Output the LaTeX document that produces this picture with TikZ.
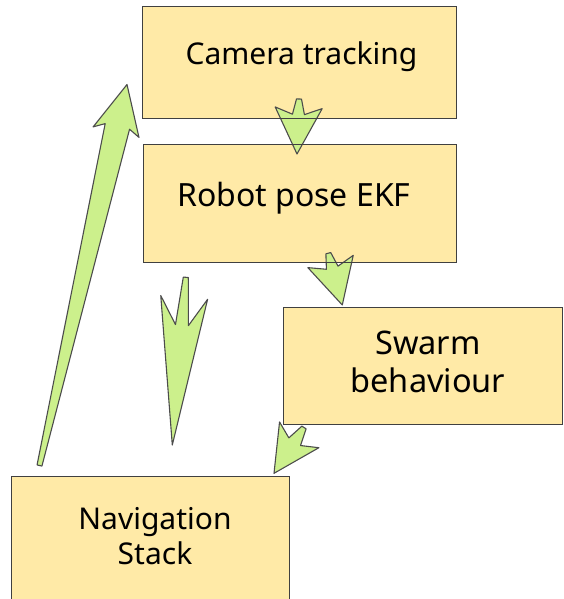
\documentclass[tikz,border=0pt]{standalone}
\usepackage{fontspec}
\setmainfont{Noto Sans}
\usetikzlibrary{calc}
\definecolor{boxyellow}{RGB}{255,234,167}
\definecolor{arrgreen}{RGB}{204,240,140}
\tikzset{
  fx/.style={x=1pt, y=-1pt},
  f box/.style={fill=boxyellow, inner sep=0pt},
  f edge/.style={draw=black!75, line width=1.2pt},
  f text/.style={align=center, inner sep=0pt},
  f fat/.style={draw=black!70, line width=1.1pt, fill=arrgreen, line join=round},
}
% tapered block arrow: tail, tip, barb pos, notch pos, notch half width
\newcommand{\fatarrow}[5]{%
  \begin{scope}[x={($(#2)-(#1)$)}, y={($(#1)!1pt!90:(#2)-(#1)$)}, shift={(#1)}]
    \draw[f fat] (0,-2.5) -- (#4,-#5) -- (#3,-23.5) -- (1,0) -- (#3,23.5) -- (#4,#5) -- (0,2.5) -- cycle;
  \end{scope}}

\begin{document}
\begin{tikzpicture}[fx]
\useasboundingbox (0,0) rectangle (563,599);
\begin{scope}
\clip (0,0) rectangle (563,599);
\node[f box, minimum width=313pt, minimum height=111pt] (cam) at (299.5,62.5) {};
\node[f box, minimum width=312pt, minimum height=117pt] (ekf) at (300,203.5) {};
\node[f box, minimum width=278pt, minimum height=116pt] (swarm) at (423,366) {};
\node[f box, minimum width=277pt, minimum height=130pt] (nav) at (150.5,542) {};

\coordinate (a1) at (299,99);    \coordinate (a2) at (297,154);
\coordinate (b1) at (328.3,253.2); \coordinate (b2) at (342.3,305);
\coordinate (c1) at (304,427.5); \coordinate (c2) at (274,473.3);
\coordinate (d1) at (185.8,277.3); \coordinate (d2) at (172.3,445);
\coordinate (e1) at (39.5,465.5); \coordinate (e2) at (127,84.5);
\fatarrow{a1}{a2}{0.16}{0.28}{6}
\fatarrow{b1}{b2}{0.16}{0.28}{6}
\fatarrow{c1}{c2}{0.16}{0.31}{7}
\fatarrow{d1}{d2}{0.12}{0.285}{6.5}
\fatarrow{e1}{e2}{0.875}{0.89}{12.5}

% box outlines go over the arrows
\foreach \b in {cam,ekf,swarm,nav}
  \draw[f edge] (\b.north west) rectangle (\b.south east);
\end{scope}
\node[f text, anchor=base, font=\fontsize{30}{35}\selectfont] (cam text) at (301.5,65) {Camera tracking};
\node[f text, anchor=base, font=\fontsize{32}{38}\selectfont] (ekf text) at (294,206) {Robot pose EKF};
\node[f text, font=\fontsize{32.5}{37.7}\selectfont] (swarm text) at (428,362) {Swarm\\behaviour};
\node[f text, font=\fontsize{30}{35}\selectfont] (nav text) at (155,536) {Navigation\\Stack};
\end{tikzpicture}
\end{document}
